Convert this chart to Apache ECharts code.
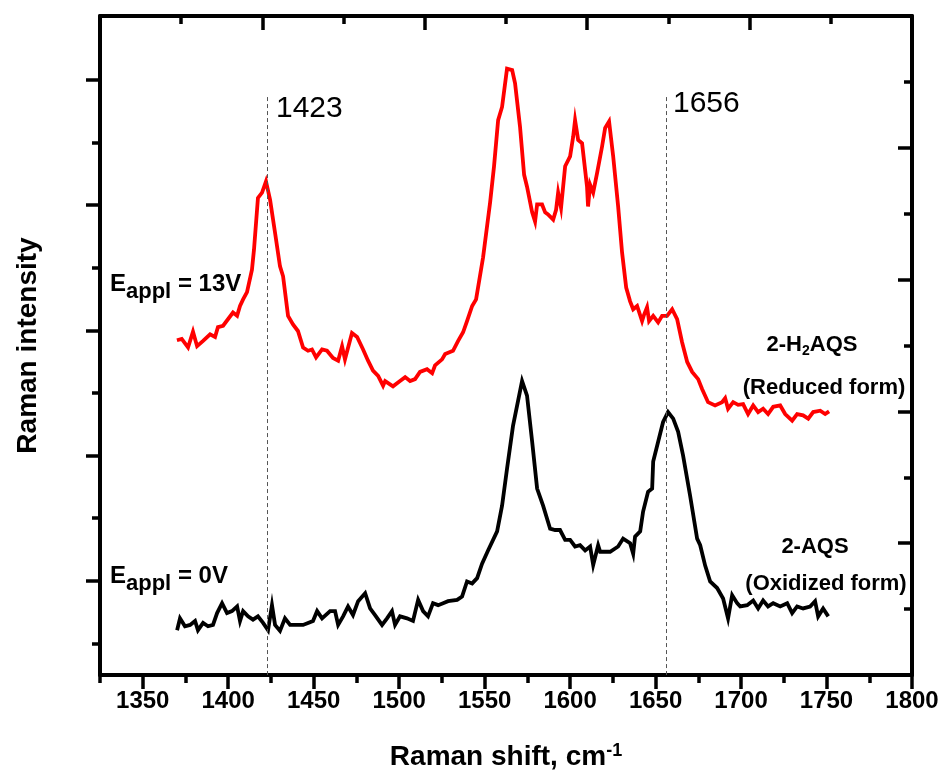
<!DOCTYPE html>
<html><head><meta charset="utf-8">
<script src="https://cdn.jsdelivr.net/npm/echarts@6/dist/echarts.min.js"></script>
<style>html,body{margin:0;padding:0;background:#fff}#c{width:943px;height:776px}</style>
</head><body><div id="c"></div>
<script>
// 2-H2AQS (reduced form, E_appl = 13V) — red
const redShift = [1370,1372.8,1376.5,1379.4,1381.8,1385.3,1389.4,1392.3,1394,1397,1402.8,1405.2,1406.9,1408.7,1411,1413.9,1415.1,1417.4,1419.8,1422.1,1424.5,1427.4,1430.3,1432.1,1435,1437.9,1440.8,1443.8,1446.7,1449,1451.4,1454.9,1457.8,1461.3,1464.3,1466.6,1468.3,1472.4,1475.4,1478.9,1481.8,1484.7,1487.7,1490.6,1491.8,1496.4,1500.5,1503.5,1506.4,1509.3,1512.2,1516.3,1519.3,1521,1525.1,1526.9,1531.5,1534.5,1537.4,1539.7,1542.7,1545,1549.1,1553.2,1555.5,1557.9,1560.2,1563.1,1566.1,1567.8,1570.7,1573.1,1574.8,1577.8,1579.5,1580.7,1583.6,1585.4,1587.1,1590.1,1591.8,1593,1594.7,1597.1,1600,1601.8,1602.9,1604.7,1607,1609.9,1610.5,1611.7,1613.5,1615.8,1618.7,1620.5,1622.8,1625.2,1628.1,1630.4,1632.8,1635.1,1636.9,1639.2,1642.1,1643.3,1645,1646.2,1648.6,1651.5,1653.8,1656.7,1659.7,1662.6,1665.5,1668.5,1671.4,1674.9,1677.2,1680.7,1684.8,1688.9,1690.7,1692.4,1695.4,1698.3,1701.2,1704.1,1707.1,1710,1712.9,1715.8,1718.8,1722.9,1725.8,1729.9,1732.8,1736.3,1739.3,1742.2,1746.3,1749.2,1751.5];
const redIntensity = [508,510,497,521,499,507,517,513,528,530,550,545,560,570,581,615,646,724,732,749,721,671,620,605,545,532,522,497,492,494,482,494,492,481,477,499,479,519,513,494,477,462,454,439,446,438,446,452,446,449,460,464,458,470,479,487,492,507,520,537,560,570,634,717,772,842,862,920,918,898,832,759,741,702,688,714,714,702,699,691,706,732,709,772,787,817,842,812,807,741,711,744,732,762,802,830,840,787,711,641,588,567,555,560,537,547,558,537,545,535,545,545,555,540,505,475,460,449,434,414,409,414,420,404,414,410,411,396,409,399,404,396,407,409,396,386,396,394,389,399,401,396,400];

// 2-AQS (oxidized form, E_appl = 0V) — black
const blackShift = [1370.1,1371.8,1374.7,1377.7,1380.6,1382.3,1385.3,1388.2,1391.1,1393.5,1396.4,1399.3,1402.2,1405.2,1406.9,1408.7,1411.6,1414.5,1417.4,1420.4,1423.3,1425.6,1427.4,1430.3,1433.2,1436.2,1440.3,1443.8,1446.7,1449.6,1452,1454.9,1459.6,1462.5,1464.3,1467.2,1470.1,1473,1476,1480.1,1483,1485.9,1490,1492.9,1495.8,1497.6,1500.5,1504.6,1508.1,1511.1,1514,1516.9,1519.8,1522.8,1525.7,1528.6,1533.9,1536.8,1539.7,1542.7,1545.6,1548.5,1552,1557.3,1560.2,1563.1,1566.6,1571.9,1574.8,1577.8,1580.7,1584.2,1588.3,1591.2,1594.1,1597.1,1600,1602.9,1605.8,1608.8,1611.7,1613.5,1616.4,1617.6,1623.4,1628.1,1631,1635.1,1636.9,1638,1641,1642.7,1645.6,1648,1648.6,1651.5,1654.4,1657.3,1660.3,1663.2,1666.1,1670.2,1674.3,1676.1,1679,1681.9,1686,1689.5,1692.4,1694.8,1697.7,1699.5,1703.6,1707.1,1710,1712.9,1715.8,1718.8,1722.9,1727,1729.9,1732.8,1736.3,1740.4,1743.3,1745.1,1748,1751];
const blackIntensity = [68,86,74,76,82,68,79,74,76,94,109,94,97,104,82,97,89,84,89,79,68,106,76,67,86,76,76,76,79,82,97,86,97,97,76,89,104,91,112,124,101,91,76,86,97,76,89,86,82,114,97,89,109,106,109,112,114,119,142,139,147,169,189,218,257,313,378,446,424,354,283,257,222,220,220,205,205,195,197,189,195,167,197,187,187,195,207,200,184,210,218,248,278,283,324,354,384,399,389,369,333,272,207,197,166,142,132,116,86,121,109,104,106,113,101,113,104,109,104,109,94,104,101,104,112,89,101,89];

// axis ticks and labels
const xMajorTicks = [1350,1400,1450,1500,1550,1600,1650,1700,1750,1800];
const xMinorTicks = [1325,1375,1425,1475,1525,1575,1625,1675,1725,1775];
const yMajorTicks = [143,333,523,713,903];
const yMinorTicks = [48,238,428,618,808];
const peakMarkers = [1423,1656];
const peakMarkerTop = 877;

const FONT = '"Liberation Sans", Arial, Helvetica, sans-serif';
const AX = {color:'#000', width:4};

const chart = echarts.init(document.getElementById('c'), null, {renderer:'canvas'});
chart.setOption({
  animation:false,
  backgroundColor:'#fff',
  grid:{left:100, right:31, top:16, bottom:99},
  xAxis:[
    {type:'value', position:'bottom', min:1325, max:1800,
     axisLine:{show:true, onZero:false, lineStyle:AX},
     axisTick:{show:true, inside:false, length:14, customValues:xMajorTicks, lineStyle:{color:'#000', width:3.5}},
     axisLabel:{show:true, customValues:xMajorTicks, margin:14, color:'#000', fontFamily:FONT, fontWeight:'bold', fontSize:24,
       formatter:v=>String(v)},
     splitLine:{show:false},
     name:'{a|Raman shift, cm}{b|-1}', nameLocation:'middle', nameGap:67,
     nameTextStyle:{rich:{
       a:{fontFamily:FONT, fontWeight:'bold', fontSize:28, color:'#000', lineHeight:30},
       b:{fontFamily:FONT, fontWeight:'bold', fontSize:18, color:'#000', lineHeight:18, verticalAlign:'top'}
     }}},
    {type:'value', position:'bottom', min:1325, max:1800,
     axisLine:{show:false, onZero:false},
     axisTick:{show:true, inside:false, length:8, customValues:xMinorTicks, lineStyle:{color:'#000', width:3.5}},
     axisLabel:{show:false}, splitLine:{show:false}},
    {type:'value', position:'top', min:0, max:10, interval:2,
     axisLine:{show:true, onZero:false, lineStyle:AX},
     axisTick:{show:true, inside:true, length:14, lineStyle:{color:'#000', width:3.5}},
     minorTick:{show:true, splitNumber:2, length:8, lineStyle:{color:'#000', width:3.5}},
     axisLabel:{show:false}, splitLine:{show:false}}
  ],
  yAxis:[
    {type:'value', position:'left', min:0, max:1000,
     axisLine:{show:true, onZero:false, lineStyle:AX},
     axisTick:{show:true, inside:false, length:14, customValues:yMajorTicks, lineStyle:{color:'#000', width:3.5}},
     axisLabel:{show:false}, splitLine:{show:false},
     name:'Raman intensity', nameLocation:'middle', nameGap:58, nameRotate:90,
     nameTextStyle:{fontFamily:FONT, fontWeight:'bold', fontSize:28, color:'#000'}},
    {type:'value', position:'left', min:0, max:1000,
     axisLine:{show:false, onZero:false},
     axisTick:{show:true, inside:false, length:8, customValues:yMinorTicks, lineStyle:{color:'#000', width:3.5}},
     axisLabel:{show:false}, splitLine:{show:false}},
    {type:'value', position:'right', min:0, max:10, interval:2,
     axisLine:{show:true, onZero:false, lineStyle:AX},
     axisTick:{show:true, inside:true, length:14, lineStyle:{color:'#000', width:3.5}},
     minorTick:{show:true, splitNumber:2, length:8, lineStyle:{color:'#000', width:3.5}},
     axisLabel:{show:false}, splitLine:{show:false}}
  ],
  series:[
    {type:'line', name:'2-AQS', xAxisIndex:0, yAxisIndex:0, showSymbol:false, symbol:'none',
     lineStyle:{color:'#000', width:3.8, join:'miter'}, z:3,
     data: blackShift.map((x,i)=>[x, blackIntensity[i]]),
     markLine:{silent:true, symbol:['none','none'], label:{show:false},
       lineStyle:{color:'#555', width:1, type:[4,3]},
       data: peakMarkers.map(p=>[{coord:[p, peakMarkerTop]},{coord:[p, 0]}])}},
    {type:'line', name:'2-H2AQS', xAxisIndex:0, yAxisIndex:0, showSymbol:false, symbol:'none',
     lineStyle:{color:'#ff0000', width:3.8, join:'miter'}, z:4,
     data: redShift.map((x,i)=>[x, redIntensity[i]])}
  ],
  graphic:[
    {type:'text', x:276, y:109, style:{text:'1423', fontFamily:FONT, fontSize:30, fill:'#000', align:'left', verticalAlign:'middle'}},
    {type:'text', x:673, y:104, style:{text:'1656', fontFamily:FONT, fontSize:30, fill:'#000', align:'left', verticalAlign:'middle'}},
    {type:'text', x:110, y:272, style:{text:'{e|E}{s|appl}{e| = 13V}', align:'left', verticalAlign:'top',
      rich:{e:{fontFamily:FONT, fontWeight:'bold', fontSize:24, lineHeight:24, verticalAlign:'top', fill:'#000'},
            s:{fontFamily:FONT, fontWeight:'bold', fontSize:22, lineHeight:22, padding:[15,0,0,0], fill:'#000'}}}},
    {type:'text', x:110, y:564, style:{text:'{e|E}{s|appl}{e| = 0V}', align:'left', verticalAlign:'top',
      rich:{e:{fontFamily:FONT, fontWeight:'bold', fontSize:24, lineHeight:24, verticalAlign:'top', fill:'#000'},
            s:{fontFamily:FONT, fontWeight:'bold', fontSize:22, lineHeight:22, padding:[15,0,0,0], fill:'#000'}}}},
    {type:'text', x:812, y:334, style:{text:'{m|2-H}{s|2}{m|AQS}', align:'center', verticalAlign:'top',
      rich:{m:{fontFamily:FONT, fontWeight:'bold', fontSize:22, lineHeight:22, verticalAlign:'top', fill:'#000'},
            s:{fontFamily:FONT, fontWeight:'bold', fontSize:14, lineHeight:14, padding:[12,0,0,0], fill:'#000'}}}},
    {type:'text', x:824, y:388, style:{text:'(Reduced form)', fontFamily:FONT, fontWeight:'bold', fontSize:22, fill:'#000', align:'center', verticalAlign:'middle'}},
    {type:'text', x:815, y:547, style:{text:'2-AQS', fontFamily:FONT, fontWeight:'bold', fontSize:22, fill:'#000', align:'center', verticalAlign:'middle'}},
    {type:'text', x:826, y:584, style:{text:'(Oxidized form)', fontFamily:FONT, fontWeight:'bold', fontSize:22, fill:'#000', align:'center', verticalAlign:'middle'}}
  ]
});
</script></body></html>
